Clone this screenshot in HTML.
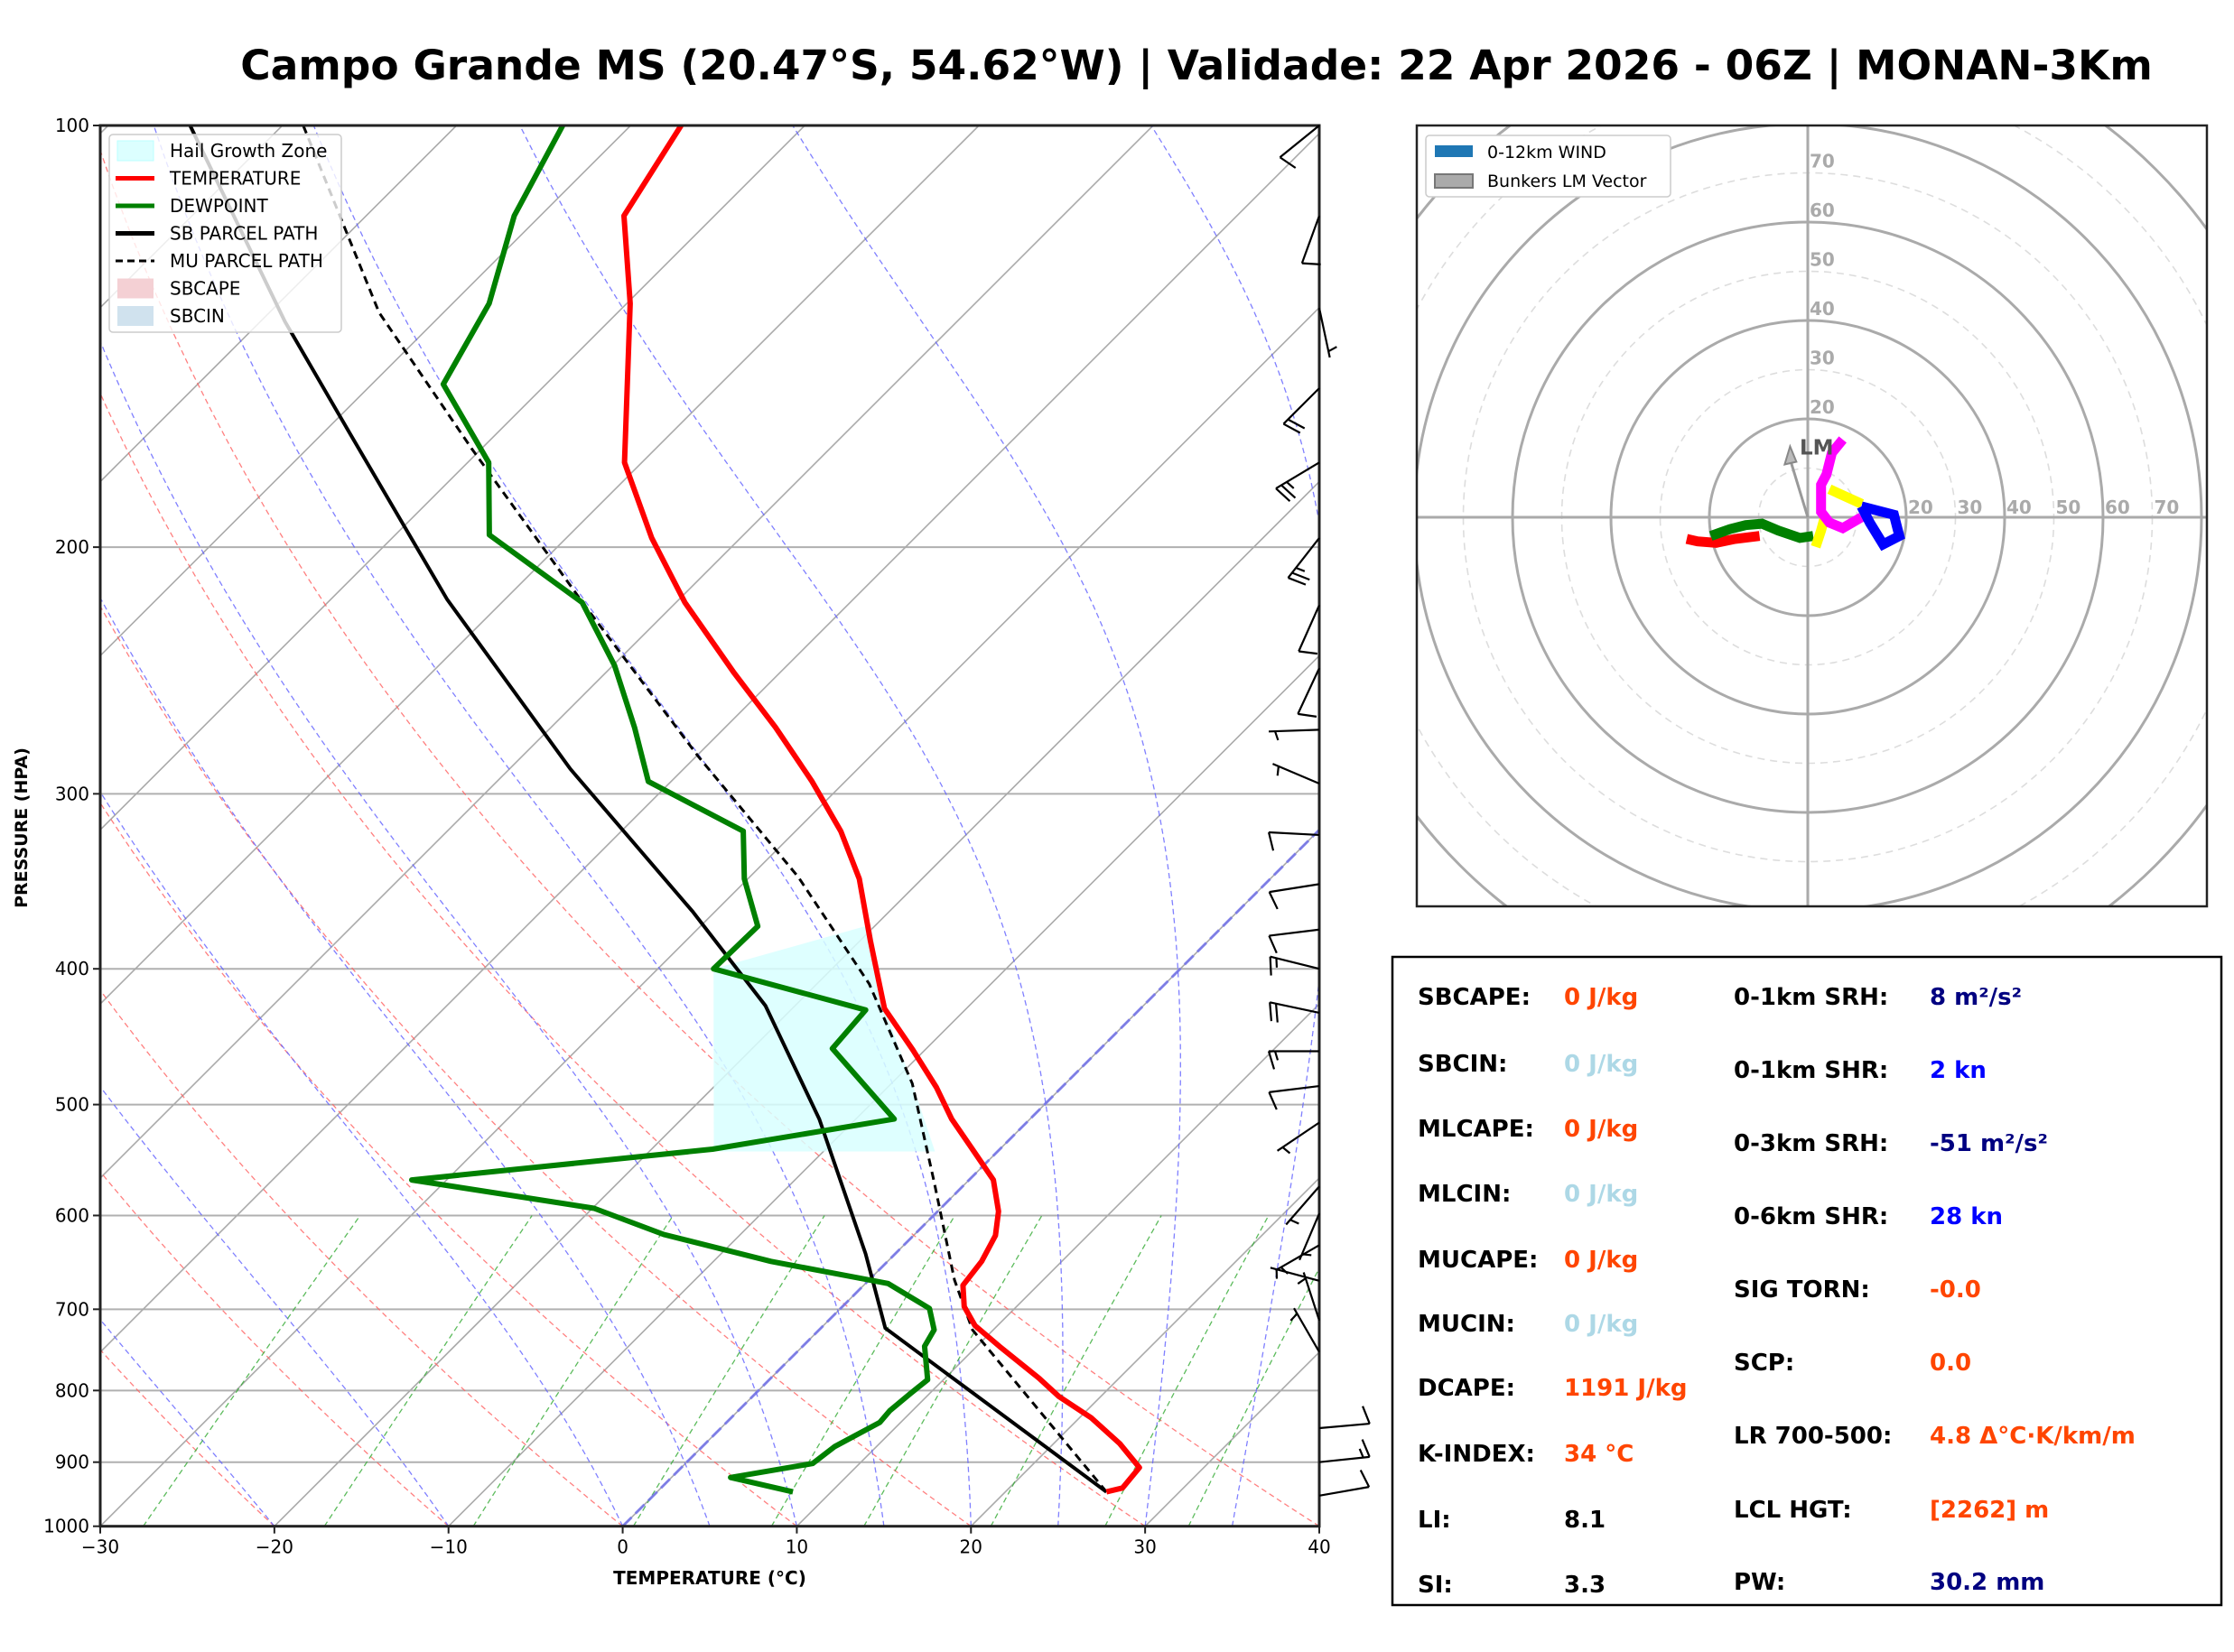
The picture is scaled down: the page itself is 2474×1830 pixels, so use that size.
<!DOCTYPE html>
<html><head><meta charset="utf-8"><style>
html,body{margin:0;padding:0;background:#fff;}
svg{display:block;font-family:"DejaVu Sans","Liberation Sans",sans-serif;}
</style></head><body>
<svg id="fig" width="2474" height="1830" viewBox="0 0 2474 1830" xmlns="http://www.w3.org/2000/svg">
<defs><clipPath id="skclip"><rect x="111" y="139" width="1350" height="1551.7"/></clipPath>
<clipPath id="hodoclip"><rect x="1569" y="139" width="875" height="865"/></clipPath></defs>
<text x="1325" y="88" text-anchor="middle" font-size="45.5" font-weight="bold">Campo Grande MS (20.47°S, 54.62°W) | Validade: 22 Apr 2026 - 06Z | MONAN-3Km</text>
<g id="skew"></g>
<g id="hodo"></g>
<g id="table"></g>
</svg>
<script>
// ---- Sounding data (pressure hPa, temperature °C) ----
const tempP = [945,939,908,873,837,808,784,744,719,697,673,647,620,596,566,536,512,486,457,427,382,345,319,294,269,246,219,197,174,134,116,100];
const tempT = [25.8,26.5,26.3,23.8,20.7,17.6,15.4,11.3,8.7,7.0,5.7,5.4,4.7,3.5,1.4,-1.8,-4.5,-7.2,-10.7,-14.7,-19.4,-23.6,-27.4,-31.9,-37.1,-42.6,-49.5,-55.1,-61.0,-69.8,-75.2,-77.1];
const dewP = [945,923,902,877,843,827,804,786,744,724,699,671,647,619,593,566,538,512,456,428,400,373,345,319,294,269,243,219,196,174,153,134,116,100];
const dewT = [7.8,3.4,7.3,7.6,8.8,8.7,8.9,9.1,7.0,6.6,5.1,1.3,-6.7,-14.4,-19.9,-32.0,-16.5,-7.8,-15.4,-15.7,-26.8,-26.7,-30.2,-33.0,-41.3,-45.2,-49.9,-55.4,-64.6,-68.8,-75.9,-77.9,-81.5,-83.9];
const sbP = [945,722,639,512,425,364,288,218,166,138,100];
const sbT = [25.8,3.7,-1.7,-12.1,-21.7,-31.3,-46.5,-63.3,-78.4,-88.6,-105.3];
const muP = [945,724,667,569,483,410,344,282,220,170,136,100];
const muT = [25.8,8.8,4.9,-1.8,-8.8,-17.0,-27.2,-39.9,-55.1,-70.6,-83.7,-98.8];
const hailP = [372,400,540,540,483,427];
const hailT = [-20.3,-26.8,-16.3,-3.6,-8.8,-14.7];
// wind barbs: pressure, direction (deg), speed (kn)
const barbP = [100,116,135,154,174,197,220,244,270,295,321,348,375,400,430,458,485,515,572,598,630,668,713,751,851,900,951];
const barbDir = [231,200,168,225,239,218,204,205,268,293,273,261,263,284,282,270,263,236,221,203,240,285,342,330,85,84,80];
const barbSpd = [10,10,5,20,25,25,10,10,5,5,10,10,10,15,20,15,10,5,5,5,5,5,5,5,10,15,10];
// axis ticks
const pTicks = [100,200,300,400,500,600,700,800,900,1000];
const tTicks = [-30,-20,-10,0,10,20,30,40];
const dryStarts = [-30,-20,-10,0,10,20,30,40];
const moistStarts = [-20,-10,0,5,10,15,20,25,30,35];
const mixRatios = [0.0004,0.001,0.002,0.004,0.007,0.01,0.016,0.024,0.032];
// hodograph (u,v in kn)
const hodoRedU = [-24.6,-22.4,-18.6,-14.8,-9.8];
const hodoRedV = [-4.4,-4.9,-5.2,-4.4,-3.8];
const hodoGreenU = [-19.7,-15.8,-12.6,-9.3,-6.0,-1.6,1.1];
const hodoGreenV = [-3.8,-2.4,-1.6,-1.3,-2.7,-4.2,-3.8];
const hodoYellowAU = [1.6,2.7,3.3];
const hodoYellowAV = [-6.0,-2.7,-0.5];
const hodoYellowBU = [4.4,11.0];
const hodoYellowBV = [5.7,2.7];
const hodoMagU = [7.1,4.9,3.8,2.7,2.7,4.4,7.1,10.9];
const hodoMagV = [15.8,13.1,8.7,6.6,1.1,-1.1,-2.2,0];
const hodoBlueU = [10.9,17.5,18.6,15.3,12.6,10.9];
const hodoBlueV = [2.2,0.5,-3.8,-5.5,-1.1,2.2];
const lmU = -3.6, lmV = 14.4;
const ringVals = [10,20,30,40,50,60,70,80,90,100];
const ringLabels = [20,30,40,50,60,70];

const NS = "http://www.w3.org/2000/svg";
function mk(tag, attrs, parent){const e=document.createElementNS(NS,tag);for(const k in attrs)e.setAttribute(k,attrs[k]);parent.appendChild(e);return e;}
const L=111,R=1461,T0=139,B=1690.7;
function Y(p){return T0+(B-T0)*Math.log10(p/100);}
function X(t,p){return L+(t+30)*(1350/70)+(B-Y(p));}
function pathFrom(ts,ps){return ts.map((t,i)=>(i?'L':'M')+X(t,ps[i]).toFixed(1)+' '+Y(ps[i]).toFixed(1)).join(' ');}

const sk=document.getElementById('skew');
const clip=mk('g',{'clip-path':'url(#skclip)'},sk);
pTicks.forEach(p=>{const l=mk('line',{x1:L,x2:R,y1:Y(p),y2:Y(p),stroke:'#b0b0b0','stroke-width':2},clip);

});
for(let t=-130;t<=40;t+=10){const l=mk('line',{x1:X(t,1000),y1:Y(1000),x2:X(t,100),y2:Y(100),stroke:'#aaa','stroke-width':1.6},clip);

}
dryStarts.forEach(t0=>{const ps=[],ts=[];for(let p=1000;p>=100;p-=10){ps.push(p);ts.push((t0+273.15)*Math.pow(p/1000,0.2857)-273.15);}
const e=mk('path',{d:pathFrom(ts,ps),fill:'none',stroke:'#ff6060','stroke-width':1.3,'stroke-dasharray':'6,4',opacity:0.8},clip);

});
function es(tc){return 6.112*Math.exp(17.67*tc/(tc+243.5));}
moistStarts.forEach(t0=>{let T=t0+273.15;const ps=[1000],ts=[t0];
for(let p=1000;p>100;p-=5){const e=es(T-273.15),rs=0.622*e/(p-e);
const dTdp=(287*T+2.5e6*rs)/(1005+(2.5e6*2.5e6*rs*0.622)/(287*T*T))/p;T-=dTdp*5;ps.push(p-5);ts.push(T-273.15);}
const e=mk('path',{d:pathFrom(ts,ps),fill:'none',stroke:'#6060ff','stroke-width':1.3,'stroke-dasharray':'6,4',opacity:0.8},clip);

});
mixRatios.forEach(w=>{const ps=[],ts=[];for(let p=1000;p>=600;p-=20){const e=w*p/(0.622+w);const lg=Math.log(e/6.112);ps.push(p);ts.push(243.5*lg/(17.67-lg));}
const e=mk('path',{d:pathFrom(ts,ps),fill:'none',stroke:'#33aa33','stroke-width':1.3,'stroke-dasharray':'6,4',opacity:0.8},clip);

});
const z=mk('line',{x1:X(0,1000),y1:Y(1000),x2:X(0,100),y2:Y(100),stroke:'#7070ee','stroke-width':3,'stroke-dasharray':'14,6',opacity:0.8},clip);


const hz=mk('path',{d:pathFrom(hailT,hailP)+'Z',fill:'#d8ffff',opacity:0.85},clip);


const mu=mk('path',{d:pathFrom(muT,muP),fill:'none',stroke:'#000','stroke-width':3,'stroke-dasharray':'9,6'},clip);


const sb=mk('path',{d:pathFrom(sbT,sbP),fill:'none',stroke:'#000','stroke-width':4},clip);


const dw=mk('path',{d:pathFrom(dewT,dewP),fill:'none',stroke:'#008000','stroke-width':6,'stroke-linejoin':'round'},clip);


const tp=mk('path',{d:pathFrom(tempT,tempP),fill:'none',stroke:'#ff0000','stroke-width':6,'stroke-linejoin':'round'},clip);


const fr=mk('rect',{x:L,y:T0,width:R-L,height:B-T0,fill:'none',stroke:'#222','stroke-width':3},sk);


pTicks.forEach(p=>{mk('line',{x1:L-8,x2:L,y1:Y(p),y2:Y(p),stroke:'#222','stroke-width':2},sk);
const t=mk('text',{x:L-12,y:Y(p)+7,'text-anchor':'end','font-size':20},sk);t.textContent=p;

});
tTicks.forEach(v=>{const x=L+(v+30)*(1350/70);mk('line',{x1:x,x2:x,y1:B,y2:B+8,stroke:'#222','stroke-width':2},sk);
const t=mk('text',{x:x,y:B+30,'text-anchor':'middle','font-size':20},sk);t.textContent=v<0?'\u2212'+(-v):v;

});
const xt=mk('text',{x:786,y:1755,'text-anchor':'middle','font-size':20,'font-weight':'bold'},sk);xt.textContent='TEMPERATURE (°C)';


const yt=mk('text',{x:30,y:917,'text-anchor':'middle','font-size':19,'font-weight':'bold',transform:'rotate(-90 30 917)'},sk);yt.textContent='PRESSURE (HPA)';


barbP.forEach((p,i)=>{const d=barbDir[i]*Math.PI/180,ux=Math.sin(d),uy=-Math.cos(d);const bx=R,by=Y(p),len=56;
const tx=bx+ux*len,ty=by+uy*len;const g=mk('g',{stroke:'#000','stroke-width':2.2,fill:'none'},sk);


mk('line',{x1:bx,y1:by,x2:tx,y2:ty},g);
let s=barbSpd[i],pos=0;const px=uy,py=-ux;
while(s>=10){const sx=tx-ux*pos,sy=ty-uy*pos;mk('line',{x1:sx,y1:sy,x2:sx+px*20-ux*6,y2:sy+py*20-uy*6},g);pos+=7;s-=10;}
if(s>=5){if(pos===0)pos=7;const sx=tx-ux*pos,sy=ty-uy*pos;mk('line',{x1:sx,y1:sy,x2:sx+px*10-ux*3,y2:sy+py*10-uy*3},g);}});
const lg=mk('g',{},sk);
mk('rect',{x:121,y:149,width:257,height:219,rx:4,fill:'#fff','fill-opacity':0.8,stroke:'#ccc','stroke-width':1.5},lg);
const legItems=[['Hail Growth Zone','patch','#dcffff'],['TEMPERATURE','line','#ff0000'],['DEWPOINT','line','#008000'],['SB PARCEL PATH','line','#000'],['MU PARCEL PATH','dash','#000'],['SBCAPE','patch','#f4d0d4'],['SBCIN','patch','#d0e2ee']];
legItems.forEach((it,i)=>{const y=164+i*30.5;
if(it[1]==='patch')mk('rect',{x:130,y:y-8,width:40,height:22,fill:it[2],stroke:i===0?'#bff':'none'},lg);
else mk('line',{x1:128,x2:171,y1:y+3,y2:y+3,stroke:it[2],'stroke-width':it[1]==='dash'?3:5,'stroke-dasharray':it[1]==='dash'?'8,5':''},lg);
const t=mk('text',{x:188,y:y+10,'font-size':20},lg);t.textContent=it[0];

});

// ---- Hodograph ----
const hg=document.getElementById('hodo');const CX=2002,CY=573,K=5.45;
const hc=mk('g',{'clip-path':'url(#hodoclip)'},hg);
ringVals.forEach(r=>{const c=mk('circle',{cx:CX,cy:CY,r:r*K,fill:'none',stroke:r%20===0?'#aaa':'#ddd','stroke-width':r%20===0?3:1.6,'stroke-dasharray':r%20===0?'':'8,6'},hc);

});
mk('line',{x1:1569,x2:2444,y1:CY,y2:CY,stroke:'#aaa','stroke-width':3},hc);
mk('line',{x1:CX,x2:CX,y1:139,y2:1004,stroke:'#aaa','stroke-width':3},hc);
ringLabels.forEach(v=>{const a=mk('text',{x:CX+v*K+2,y:CY-4,'font-size':20,'font-weight':'bold',fill:'#aaa'},hg);a.textContent=v;


const b=mk('text',{x:CX+2,y:CY-v*K-6,'font-size':20,'font-weight':'bold',fill:'#aaa'},hg);b.textContent=v;

});
function hpath(us,vs){return us.map((u,i)=>(i?'L':'M')+(CX+u*K).toFixed(1)+' '+(CY-vs[i]*K).toFixed(1)).join(' ');}
[[hodoRedU,hodoRedV,'#ff0000','hodo-segment-red'],[hodoGreenU,hodoGreenV,'#008000','hodo-segment-green'],[hodoYellowAU,hodoYellowAV,'#ffff00','hodo-segment-yellow'],[hodoYellowBU,hodoYellowBV,'#ffff00','hodo-segment-yellow'],[hodoMagU,hodoMagV,'#ff00ff','hodo-segment-magenta'],[hodoBlueU,hodoBlueV,'#0000ff','hodo-segment-blue']].forEach(s=>{
const e=mk('path',{d:hpath(s[0],s[1]),fill:'none',stroke:s[2],'stroke-width':11,'stroke-linejoin':'miter'},hc);

});
const ax=CX+lmU*K,ay=CY-lmV*K;
const lm=mk('g',{},hg);
mk('line',{x1:CX,y1:CY,x2:ax,y2:ay+14,stroke:'#999','stroke-width':3},lm);
mk('path',{d:`M${ax} ${ay} L${ax-6} ${ay+20} L${ax+7} ${ay+17} Z`,fill:'#bbb',stroke:'#888','stroke-width':2},lm);
const lmt=mk('text',{x:CX-9,y:ay+9,'font-size':23,'font-weight':'bold',fill:'#555'},lm);lmt.textContent='LM';
mk('rect',{x:1569,y:139,width:875,height:865,fill:'none',stroke:'#222','stroke-width':2.5},hg);
const hl=mk('g',{},hg);
mk('rect',{x:1579,y:150,width:271,height:68,rx:4,fill:'#fff',stroke:'#ccc','stroke-width':1.5},hl);
mk('rect',{x:1589,y:161,width:42,height:13,fill:'#1f77b4'},hl);
mk('rect',{x:1589,y:193,width:42,height:15,fill:'#aaa',stroke:'#777','stroke-width':2},hl);
const h1=mk('text',{x:1647,y:175,'font-size':19},hl);h1.textContent='0-12km WIND';
const h2=mk('text',{x:1647,y:207,'font-size':19},hl);h2.textContent='Bunkers LM Vector';

// ---- Table ----
const tb=document.getElementById('table');
mk('rect',{x:1542,y:1060,width:918,height:718,fill:'#fff',stroke:'#000','stroke-width':2.5},tb);
const leftRows=[['SBCAPE:','0 J/kg','#ff4500'],['SBCIN:','0 J/kg','#add8e6'],['MLCAPE:','0 J/kg','#ff4500'],['MLCIN:','0 J/kg','#add8e6'],['MUCAPE:','0 J/kg','#ff4500'],['MUCIN:','0 J/kg','#add8e6'],['DCAPE:','1191 J/kg','#ff4500'],['K-INDEX:','34 °C','#ff4500'],['LI:','8.1','#000'],['SI:','3.3','#000']];
const leftY=[1113,1187,1259,1331,1404,1475,1546,1619,1692,1764];
const rightRows=[['0-1km SRH:','8 m²/s²','#000080'],['0-1km SHR:','2 kn','#0000ff'],['0-3km SRH:','-51 m²/s²','#000080'],['0-6km SHR:','28 kn','#0000ff'],['SIG TORN:','-0.0','#ff4500'],['SCP:','0.0','#ff4500'],['LR 700-500:','4.8 Δ°C·K/km/m','#ff4500'],['LCL HGT:','[2262] m','#ff4500'],['PW:','30.2 mm','#000080']];
const rightY=[1113,1194,1275,1356,1437,1518,1599,1681,1761];
leftRows.forEach((r,i)=>{const a=mk('text',{x:1570,y:leftY[i],'font-size':26,'font-weight':'bold'},tb);a.textContent=r[0];


const b=mk('text',{x:1732,y:leftY[i],'font-size':26,'font-weight':'bold',fill:r[2]},tb);b.textContent=r[1];

});
rightRows.forEach((r,i)=>{const a=mk('text',{x:1920,y:rightY[i],'font-size':26,'font-weight':'bold'},tb);a.textContent=r[0];


const b=mk('text',{x:2137,y:rightY[i],'font-size':26,'font-weight':'bold',fill:r[2]},tb);b.textContent=r[1];

});
</script>
</body></html>
